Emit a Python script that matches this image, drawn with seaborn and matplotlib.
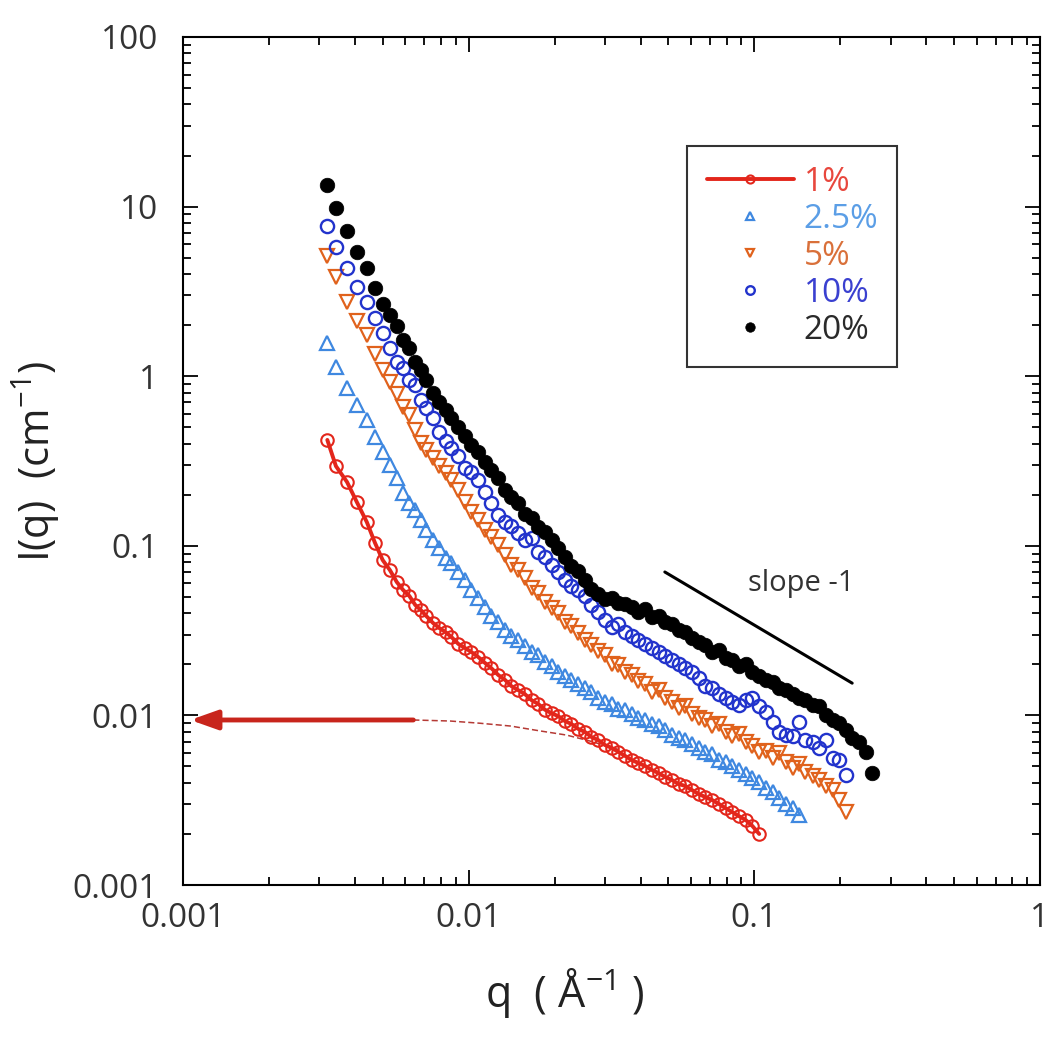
import matplotlib
matplotlib.use("Agg")
import matplotlib.pyplot as plt
import matplotlib.ticker as mticker
import seaborn as sns

# q grid shared by all series (A^-1)
q_grid = [0.0032, 0.00343, 0.00375, 0.00406, 0.0044, 0.0047, 0.0050, 0.0053, 0.0056, 0.0059,
          0.0062, 0.0065, 0.0068, 0.0071, 0.0075, 0.0079, 0.0083, 0.0087, 0.0092, 0.0097,
          0.0102, 0.0108, 0.0114, 0.0120, 0.0127, 0.0134, 0.0141, 0.0149, 0.0157, 0.0166,
          0.0175, 0.0185, 0.0195, 0.0206, 0.0217, 0.0229, 0.0242, 0.0255, 0.0269, 0.0284,
          0.0300, 0.0317, 0.0334, 0.0353, 0.0372, 0.0393, 0.0415, 0.0438, 0.0462, 0.0488,
          0.0515, 0.0543, 0.0573, 0.0605, 0.0639, 0.0674, 0.0712, 0.0751, 0.0793, 0.0837,
          0.0883, 0.0932, 0.0984, 0.104, 0.110, 0.116, 0.122, 0.129, 0.136, 0.143,
          0.151, 0.160, 0.168, 0.178, 0.188, 0.198, 0.209, 0.220, 0.233, 0.246,
          0.259]

# I(q) in cm^-1 for each concentration
I_1 = [0.421, 0.295, 0.238, 0.181, 0.138, 0.104, 0.0824, 0.0719, 0.0612, 0.0548,
       0.0506, 0.0448, 0.0418, 0.0386, 0.0351, 0.0327, 0.0310, 0.0290, 0.0264, 0.0250,
       0.0237, 0.0221, 0.0204, 0.0190, 0.0173, 0.0162, 0.0149, 0.0141, 0.0134, 0.0123,
       0.0117, 0.0108, 0.0103, 0.0099, 0.00927, 0.0089, 0.00832, 0.0080, 0.00746, 0.00716,
       0.00669, 0.00643, 0.0061, 0.00577, 0.00546, 0.00524, 0.00503, 0.00477, 0.00457, 0.00433,
       0.00416, 0.00394, 0.00384, 0.00363, 0.00344, 0.0033, 0.00317, 0.00301, 0.00284, 0.00269,
       0.00255, 0.00242, 0.00223, 0.00200]

I_2p5 = [1.57, 1.13, 0.851, 0.676, 0.552, 0.438, 0.357, 0.299, 0.251, 0.205,
         0.179, 0.163, 0.142, 0.124, 0.108, 0.097, 0.0847, 0.0792, 0.070, 0.0628,
         0.0548, 0.0492, 0.0436, 0.0386, 0.0356, 0.0319, 0.0294, 0.0279, 0.0256, 0.0237,
         0.0227, 0.0206, 0.0195, 0.0180, 0.0171, 0.0162, 0.0153, 0.0145, 0.0137, 0.0127,
         0.0120, 0.0117, 0.0109, 0.0108, 0.0102, 0.0097, 0.0094, 0.0089, 0.00866, 0.0082,
         0.00766, 0.00736, 0.00716, 0.00678, 0.00643, 0.0061, 0.0059, 0.00546, 0.0053, 0.00503,
         0.00477, 0.00451, 0.00428, 0.00405, 0.00373, 0.00353, 0.00326, 0.00301, 0.00284, 0.00259]

I_5 = [5.11, 3.85, 2.74, 2.11, 1.75, 1.35, 1.09, 0.925, 0.785, 0.658,
       0.590, 0.482, 0.404, 0.367, 0.330, 0.295, 0.269, 0.244, 0.213, 0.181,
       0.158, 0.142, 0.124, 0.113, 0.101, 0.0883, 0.0771, 0.0719, 0.0646, 0.0564,
       0.0527, 0.0467, 0.0430, 0.0402, 0.0356, 0.0337, 0.0306, 0.0279, 0.0260, 0.0240,
       0.0227, 0.0201, 0.0198, 0.0180, 0.0173, 0.0160, 0.0153, 0.0137, 0.0141, 0.0127,
       0.0120, 0.0111, 0.0114, 0.0102, 0.0097, 0.0094, 0.00866, 0.0089, 0.0080, 0.00756,
       0.0078, 0.0070, 0.0066, 0.0061, 0.0062, 0.0056, 0.0060, 0.0053, 0.0049, 0.0052,
       0.00463, 0.0044, 0.00416, 0.00384, 0.00363, 0.00317, 0.00269]

I_10 = [7.69, 5.78, 4.34, 3.36, 2.74, 2.20, 1.80, 1.47, 1.21, 1.12,
        0.95, 0.887, 0.724, 0.649, 0.567, 0.469, 0.415, 0.377, 0.338, 0.288,
        0.272, 0.244, 0.208, 0.179, 0.152, 0.138, 0.131, 0.119, 0.108, 0.111,
        0.0919, 0.086, 0.077, 0.070, 0.0628, 0.058, 0.0548, 0.0506, 0.0448, 0.0407,
        0.0365, 0.0332, 0.0346, 0.031, 0.0294, 0.0279, 0.0264, 0.0250, 0.0237, 0.0224,
        0.0212, 0.0201, 0.0190, 0.0180, 0.0166, 0.0149, 0.0145, 0.0134, 0.0127, 0.0120,
        0.0115, 0.0123, 0.0127, 0.0114, 0.0105, 0.0091, 0.0080, 0.00766, 0.00756, 0.0091,
        0.00716, 0.0070, 0.00643, 0.00716, 0.00561, 0.00546, 0.00446]

I_20 = [13.4, 9.8, 7.18, 5.40, 4.34, 3.31, 2.67, 2.30, 1.98, 1.63,
        1.47, 1.21, 1.09, 0.95, 0.80, 0.705, 0.632, 0.567, 0.50, 0.444,
        0.393, 0.357, 0.312, 0.280, 0.251, 0.213, 0.194, 0.179, 0.154, 0.146,
        0.129, 0.121, 0.108, 0.097, 0.086, 0.076, 0.071, 0.0628, 0.0556, 0.052,
        0.0485, 0.049, 0.046, 0.0454, 0.0436, 0.0407, 0.0424, 0.038, 0.0385, 0.0356,
        0.0346, 0.0319, 0.031, 0.0286, 0.0271, 0.026, 0.0237, 0.0243, 0.0218, 0.0212,
        0.0195, 0.0201, 0.018, 0.0171, 0.0162, 0.0157, 0.0145, 0.0141, 0.0134, 0.0127,
        0.0123, 0.0115, 0.0114, 0.0100, 0.0094, 0.0090, 0.0082, 0.0074, 0.0070, 0.0061,
        0.0046]

# extrapolation of the 1% fit to q -> 0
I0_plateau = 0.0094
q_plateau = [0.0064, 0.00106]
q_ext = [0.0064, 0.0086, 0.0109, 0.0140, 0.0178, 0.0220, 0.0266, 0.0339]
I_ext = [0.0094, 0.00927, 0.0090, 0.00866, 0.0081, 0.00766, 0.00706, 0.00625]

# slope -1 guide
q_slope = [0.0486, 0.22]
I_slope = [0.0701, 0.0155]

labels = ["1%", "2.5%", "5%", "10%", "20%"]
text_colors = ["#e8473d", "#5b9ee6", "#d9703a", "#3a40d0", "#2a2a2a"]

sns.set_style("ticks")
plt.rcParams["font.family"] = ["Open Sans", "DejaVu Sans"]
plt.rcParams["mathtext.default"] = "regular"

fig = plt.figure(figsize=(10.5, 10.48), dpi=100)
ax = fig.add_axes([0.1743, 0.1555, 0.8162, 0.8092])
ax.set_xscale("log")
ax.set_yscale("log")

red = "#e3261b"

# extrapolated Guinier part of the 1% fit
sns.lineplot(x=q_ext, y=I_ext, color="#b53a35", lw=1.1, linestyle=(0, (4, 2)), ax=ax)
ax.annotate("", xy=(q_plateau[1], I0_plateau), xytext=(q_plateau[0], I0_plateau),
            arrowprops=dict(arrowstyle="-|>,head_length=0.9,head_width=0.32",
                            lw=3.5, color="#c8251c", shrinkA=0, shrinkB=0,
                            mutation_scale=18))

# data
sns.lineplot(x=q_grid[:len(I_1)], y=I_1, color=red, lw=2.8, marker="o", markersize=9,
             markerfacecolor="none", markeredgecolor=red, markeredgewidth=1.5,
             label=labels[0], ax=ax)
sns.lineplot(x=q_grid[:len(I_2p5)], y=I_2p5, linestyle="", marker="^", markersize=9.5,
             markerfacecolor="none", markeredgecolor="#3f88e0", markeredgewidth=1.6,
             label=labels[1], ax=ax)
sns.lineplot(x=q_grid[:len(I_5)], y=I_5, linestyle="", marker="v", markersize=9.5,
             markerfacecolor="none", markeredgecolor="#e0621c", markeredgewidth=1.6,
             label=labels[2], ax=ax)
sns.lineplot(x=q_grid[:len(I_10)], y=I_10, linestyle="", marker="o", markersize=9.5,
             markerfacecolor="none", markeredgecolor="#2233cc", markeredgewidth=1.7,
             label=labels[3], ax=ax)
sns.lineplot(x=q_grid[:len(I_20)], y=I_20, linestyle="", marker="o", markersize=10.5,
             markerfacecolor="black", markeredgecolor="black", markeredgewidth=0.5,
             label=labels[4], ax=ax)

# slope -1 guide line
sns.lineplot(x=q_slope, y=I_slope, color="black", lw=2.2, ax=ax)
ax.text(0.146, 0.060, "slope -1", fontsize=21, color="#333333", ha="center", va="center")

ax.set_xlim(0.001, 1)
ax.set_ylim(0.001, 100)
ax.xaxis.set_major_locator(mticker.FixedLocator([0.001, 0.01, 0.1, 1]))
ax.xaxis.set_major_formatter(mticker.FixedFormatter(["0.001", "0.01", "0.1", "1"]))
ax.yaxis.set_major_locator(mticker.FixedLocator([0.001, 0.01, 0.1, 1, 10, 100]))
ax.yaxis.set_major_formatter(mticker.FixedFormatter(["0.001", "0.01", "0.1", "1", "10", "100"]))
for axis in (ax.xaxis, ax.yaxis):
    axis.set_minor_locator(mticker.LogLocator(base=10, subs=range(2, 10), numticks=20))
    axis.set_minor_formatter(mticker.NullFormatter())

ax.tick_params(which="both", direction="in", top=True, right=True, width=1.3,
               color="black", labelcolor="#333333", labelsize=24)
ax.tick_params(which="major", length=11)
ax.tick_params(which="minor", length=6)
ax.tick_params(axis="y", pad=18)
ax.tick_params(axis="x", pad=12)
for sp in ax.spines.values():
    sp.set_linewidth(1.5)
    sp.set_color("black")

ax.set_xlabel("q  ( Å$^{-1}$ )", fontsize=31, color="#222222")
ax.xaxis.set_label_coords(0.446, -0.095)
ax.set_ylabel("I(q)  (cm$^{-1}$)", fontsize=30, color="#222222", labelpad=8)

leg = ax.legend(loc="upper left", bbox_to_anchor=(0.588, 0.612, 0.245, 0.2595),
                mode="expand", frameon=True, fancybox=False, edgecolor="#333333",
                framealpha=1, fontsize=24, handlelength=2.6, handletextpad=0.3,
                labelspacing=0.12, borderpad=0.6, borderaxespad=0, markerscale=0.65)
leg.get_frame().set_linewidth(1.5)
for t, c in zip(leg.get_texts(), text_colors):
    t.set_color(c)

fig.savefig("out.png", dpi=100)
